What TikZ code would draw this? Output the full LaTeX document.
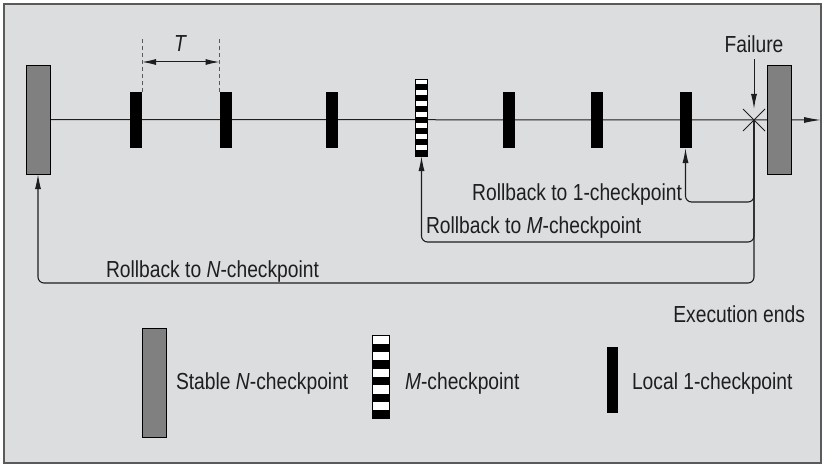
\documentclass[tikz,border=0pt]{standalone}
\usepackage{fontspec}
\setmainfont{Liberation Sans}[FakeStretch=0.83]
\usetikzlibrary{arrows.meta,calc,shapes.misc,backgrounds}

\definecolor{panel}{HTML}{DCDDDF}
\definecolor{stablegray}{HTML}{808080}
\definecolor{framegray}{HTML}{5A5A5A}
\definecolor{ink}{HTML}{1E1E1E}

\begin{document}
\begin{tikzpicture}[x=1pt,y=-1pt,
  every node/.style={inner sep=0pt, outer sep=0pt},
  lbl/.style={font=\fontsize{23.2}{27}\selectfont, text=ink},
  stablecp/.style={draw=black, fill=stablegray, line width=0.9pt,
    minimum width=24pt, minimum height=109pt},
  localcp/.style={fill=black, minimum width=12pt, minimum height=56pt},
  mcp/.style={draw=black, fill=white, line width=0.8pt,
    path picture={\foreach \k in {1,...,#1}{
      \fill[black]
        ($(path picture bounding box.north west)!{(\k-0.5)/#1}!(path picture bounding box.south west)$)
        rectangle
        ($(path picture bounding box.north east)!{\k/#1}!(path picture bounding box.south east)$);}}},
  headed/.style={-{Latex[length=15pt,width=6pt]}},
  rb/.style={draw=ink, line width=1.1pt, rounded corners=6pt, headed},
  guide/.style={draw=framegray, line width=0.8pt, dash pattern=on 4pt off 3pt},
]
\useasboundingbox (0,0) rectangle (824,468);

% checkpoints along the execution line
\node[stablecp] (N1) at (38,119.5) {};
\node[localcp] (L1) at (136,120) {};
\node[localcp] (L2) at (225.5,120) {};
\node[localcp] (L3) at (331.5,120) {};
\node[mcp=7, minimum width=11.6pt, minimum height=77pt] (M) at (421.5,117.5) {};
\node[localcp] (L5) at (509,120) {};
\node[localcp] (L6) at (597,120) {};
\node[localcp] (L7) at (685.5,120) {};
\node[cross out, draw=ink, line width=0.8pt, minimum size=22pt] (fail) at (754,120) {};
\node[stablecp] (N2) at (779,119.5) {};
\coordinate (lineend) at (821,120);

\begin{pgfonlayer}{background}
  \fill[panel] (4,4) rectangle (821,463);
  \draw[framegray, line width=1.2pt] (4,4) rectangle (821,463);
  \draw[ink, line width=1pt, -{Latex[length=17pt,width=6pt]}] (N1.east) -- (lineend);
\end{pgfonlayer}

% checkpoint interval
\coordinate (d1) at ($(L1.north east)+(0,-54)$);
\coordinate (d2) at ($(L2.north west)+(0,-54)$);
\draw[guide] (L1.north east) -- (d1);
\draw[guide] (L2.north west) -- (d2);
\draw[ink, line width=1pt, {Latex[length=14pt,width=6pt]}-{Latex[length=14pt,width=6pt]}]
  ($(L1.north east)+(0,-30)$) -- ($(L2.north west)+(0,-30)$);
\node[lbl, anchor=base] (T) at (180.5,52) {\textit{T}};

% failure
\node[lbl, anchor=base] (failtxt) at (754,53) {Failure};
\coordinate (fs) at (754,59);
\draw[ink, line width=1pt, headed] (fs) -- (fail.north);

% rollbacks
\draw[rb] (fail.center) |- ([yshift=-54pt]L7.south) -- (L7.south);
\draw[rb] (fail.center) |- ([yshift=-86pt]M.south) -- (M.south);
\draw[rb] (fail.center) |- ([yshift=-109pt]N1.south) -- (N1.south);

\node[lbl, anchor=base east] (r1) at (682,200) {Rollback to 1-checkpoint};
\node[lbl, anchor=base west] (r2) at (426,233) {Rollback to \textit{M}-checkpoint};
\node[lbl, anchor=base west] (r3) at (106,277) {Rollback to \textit{N}-checkpoint};
\node[lbl, anchor=base east] (ee) at (805,322) {Execution ends};

% legend
\node[stablecp] (lgN) at (154,383) {};
\node[lbl, anchor=base west] (lgNt) at (176,389) {Stable \textit{N}-checkpoint};
\node[mcp=5, minimum width=17pt, minimum height=83pt] (lgM) at (380.5,377) {};
\node[lbl, anchor=base west] (lgMt) at (405,389) {\textit{M}-checkpoint};
\node[localcp, minimum width=11pt, minimum height=66pt] (lgL) at (612.5,380) {};
\node[lbl, anchor=base west] (lgLt) at (632,389) {Local 1-checkpoint};
\end{tikzpicture}
\end{document}
